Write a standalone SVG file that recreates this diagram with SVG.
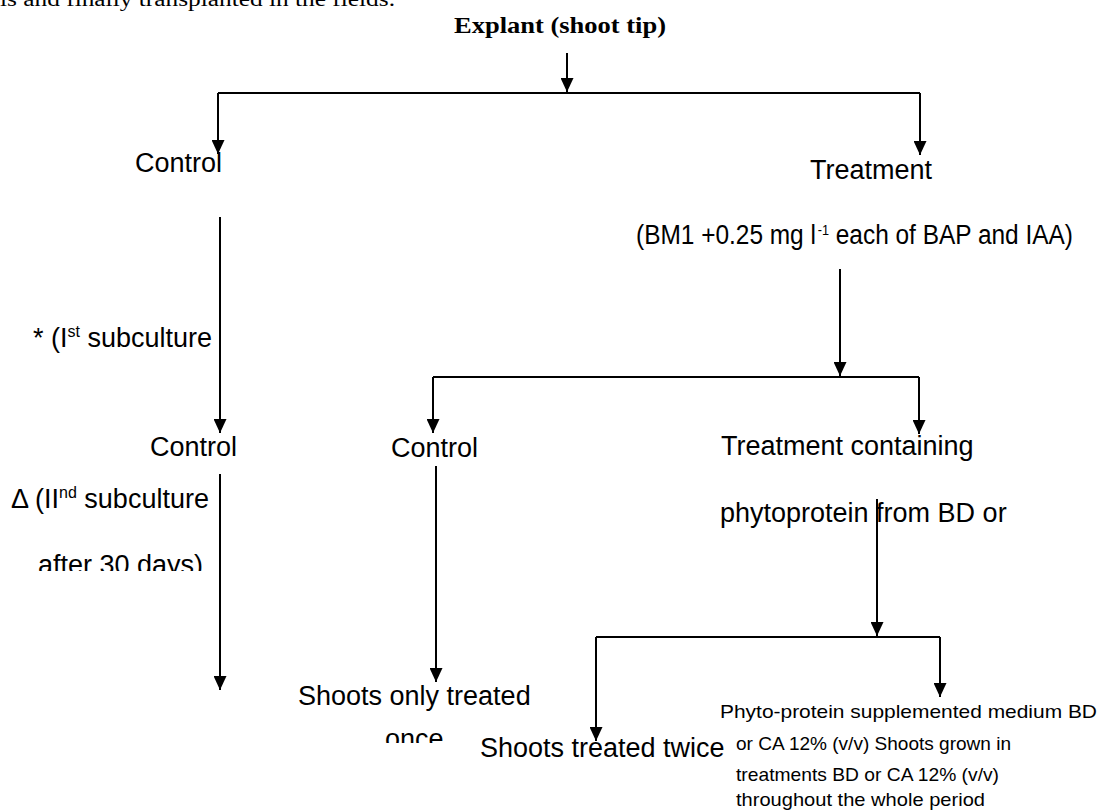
<svg xmlns="http://www.w3.org/2000/svg" width="1099" height="812" viewBox="0 0 1099 812">
<style>
.s{font-family:"Liberation Sans",Arial,sans-serif;font-size:27px;fill:#000}
.sm{font-family:"Liberation Sans",Arial,sans-serif;font-size:19px;fill:#000}
.ser{font-family:"Liberation Serif","Times New Roman",serif;fill:#000}
.c{stroke:#000;stroke-width:2;fill:none}
</style>
<defs>
<marker id="ah" markerUnits="userSpaceOnUse" markerWidth="14" markerHeight="13" refX="14" refY="6.5" orient="auto" viewBox="0 0 14 13">
<path d="M0,0 L14,6.5 L0,13 z" fill="#000"/>
</marker>
<clipPath id="clipA"><rect x="0" y="540" width="300" height="31"/></clipPath>
<clipPath id="clipB"><rect x="360" y="715" width="120" height="28"/></clipPath>
</defs>
<rect width="1099" height="812" fill="#fff"/>
<g id="topline"><text class="ser" x="0" y="6" font-size="20" textLength="395" lengthAdjust="spacingAndGlyphs">ls and finally transplanted in the fields.</text></g>
<g id="explant"><text class="ser" x="454" y="33" font-size="23" font-weight="bold" textLength="212" lengthAdjust="spacingAndGlyphs">Explant (shoot tip)</text></g>
<g id="control1"><text class="s" x="135" y="172">Control</text></g>
<g id="treatment1"><text class="s" x="810" y="179">Treatment</text></g>
<g id="bm1"><text class="s" x="636" y="244" font-size="24.4" textLength="437" lengthAdjust="spacingAndGlyphs">(BM1 +0.25 mg l<tspan font-size="14" dx="2" dy="-9">-1</tspan><tspan dy="9"> each of BAP and IAA)</tspan></text></g>
<g id="sub1"><text class="s" x="33" y="347">* (I<tspan font-size="16" dy="-10">st</tspan><tspan dy="10"> subculture</tspan></text></g>
<g id="control2"><text class="s" x="150" y="456">Control</text></g>
<g id="sub2"><text class="s" x="11" y="508">Δ (II<tspan font-size="16" dy="-10">nd</tspan><tspan dy="10"> subculture</tspan></text>
<text class="s" x="38" y="574" clip-path="url(#clipA)">after 30 days)</text></g>
<g id="control3"><text class="s" x="391" y="457">Control</text></g>
<g id="treatment2"><text class="s" x="721" y="455">Treatment containing</text>
<text class="s" x="720" y="522">phytoprotein from BD or</text></g>
<g id="once"><text class="s" x="298" y="705">Shoots only treated</text>
<text class="s" x="385" y="748" clip-path="url(#clipB)">once</text></g>
<g id="twice"><text class="s" x="480" y="757">Shoots treated twice</text></g>
<g id="whole"><text class="sm" x="720" y="718" textLength="377" lengthAdjust="spacingAndGlyphs">Phyto-protein supplemented medium BD</text>
<text class="sm" x="736" y="750" textLength="275" lengthAdjust="spacingAndGlyphs">or CA 12% (v/v) Shoots grown in</text>
<text class="sm" x="736" y="781" textLength="263" lengthAdjust="spacingAndGlyphs">treatments BD or CA 12% (v/v)</text>
<text class="sm" x="736" y="806" textLength="249" lengthAdjust="spacingAndGlyphs">throughout the whole period</text></g>
<g id="connectors">
<path class="c" d="M567,53 V92" marker-end="url(#ah)"/>
<path class="c" d="M218,93 H920" stroke-width="2.5"/>
<path class="c" d="M218,93 V154" marker-end="url(#ah)"/>
<path class="c" d="M920,93 V155" marker-end="url(#ah)"/>
<path class="c" d="M220,217 V433" marker-end="url(#ah)"/>
<path class="c" d="M220,474 V690" marker-end="url(#ah)"/>
<path class="c" d="M840,269 V376" marker-end="url(#ah)"/>
<path class="c" d="M433,377 H919"/>
<path class="c" d="M433,377 V433" marker-end="url(#ah)"/>
<path class="c" d="M919,377 V434" marker-end="url(#ah)"/>
<path class="c" d="M436,466 V682" marker-end="url(#ah)"/>
<path class="c" d="M877,499 V636" marker-end="url(#ah)"/>
<path class="c" d="M596,637 H940"/>
<path class="c" d="M940,637 V697" marker-end="url(#ah)"/>
<path class="c" d="M596,637 V741" marker-end="url(#ah)"/>
</g>
</svg>
